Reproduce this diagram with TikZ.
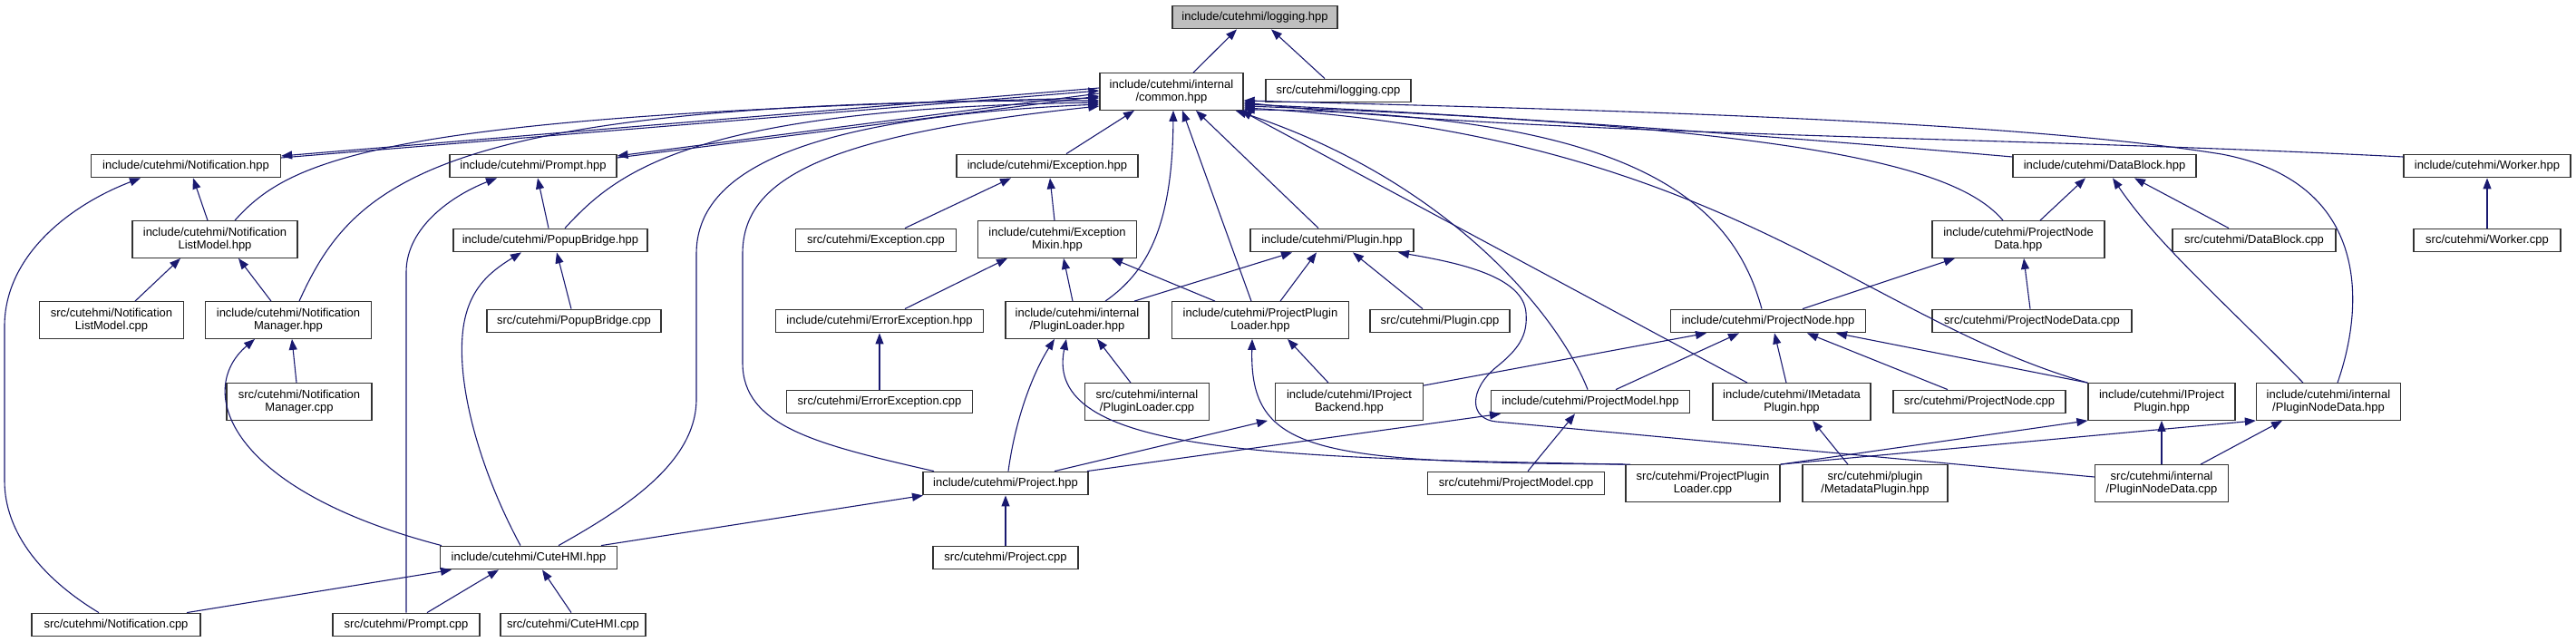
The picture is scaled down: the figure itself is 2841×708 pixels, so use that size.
\documentclass[tikz,border=0pt]{standalone}
\usepackage{fontspec}
\setmainfont{Liberation Sans}
\usepackage{xcolor}
\usepackage{tikz}
\usetikzlibrary{arrows.meta, calc}

\definecolor{edgeblue}{RGB}{25,25,112}

\begin{document}
\begin{tikzpicture}
	[x=1pt, y=1pt, >={Triangle[length=12pt,width=9pt]},
	filebox/.style={rectangle, draw=black!80, line width=1.3pt, fill=white, minimum height=25.5pt, inner sep=2pt, align=center, font=\fontsize{13}{14}\selectfont},
	twobox/.style={filebox, minimum height=40.5pt},
	rootbox/.style={filebox, fill=black!25},
	dep/.style={->, draw=edgeblue, line width=1.1pt}
	]
	\useasboundingbox (0,0) rectangle (2841,-708);

	% Nodes
	\node[rootbox, minimum width=182] (logh) at (1384,-19) {include/cutehmi/logging.hpp};
	\node[twobox, minimum width=158] (commonh) at (1292,-101) {include/cutehmi/internal\\/common.hpp};
	\node[filebox, minimum width=160] (logcpp) at (1476,-100) {src/cutehmi/logging.cpp};

	\node[filebox, minimum width=209] (notifh) at (205,-183) {include/cutehmi/Notification.hpp};
	\node[filebox, minimum width=184] (prompth) at (588,-183) {include/cutehmi/Prompt.hpp};
	\node[filebox, minimum width=200] (exch) at (1155,-183) {include/cutehmi/Exception.hpp};
	\node[filebox, minimum width=202] (datablockh) at (2321,-183) {include/cutehmi/DataBlock.hpp};
	\node[filebox, minimum width=184] (workerh) at (2743,-183) {include/cutehmi/Worker.hpp};

	\node[twobox, minimum width=182] (nlmh) at (237,-264) {include/cutehmi/Notification\\ListModel.hpp};
	\node[filebox, minimum width=214] (popuph) at (607,-265) {include/cutehmi/PopupBridge.hpp};
	\node[filebox, minimum width=177] (exccpp) at (966,-265) {src/cutehmi/Exception.cpp};
	\node[twobox, minimum width=175] (excmixh) at (1166,-264) {include/cutehmi/Exception\\Mixin.hpp};
	\node[filebox, minimum width=180] (pluginh) at (1469,-265) {include/cutehmi/Plugin.hpp};
	\node[twobox, minimum width=190] (pndh) at (2226,-264) {include/cutehmi/ProjectNode\\Data.hpp};
	\node[filebox, minimum width=180] (datablockcpp) at (2486,-265) {src/cutehmi/DataBlock.cpp};
	\node[filebox, minimum width=162] (workercpp) at (2743,-265) {src/cutehmi/Worker.cpp};

	\node[twobox, minimum width=159] (nlmcpp) at (123,-353) {src/cutehmi/Notification\\ListModel.cpp};
	\node[twobox, minimum width=183] (nmh) at (318,-353) {include/cutehmi/Notification\\Manager.hpp};
	\node[filebox, minimum width=192] (popupcpp) at (633,-354) {src/cutehmi/PopupBridge.cpp};
	\node[filebox, minimum width=229] (errexch) at (970,-354) {include/cutehmi/ErrorException.hpp};
	\node[twobox, minimum width=158] (pluginloaderh) at (1188,-353) {include/cutehmi/internal\\/PluginLoader.hpp};
	\node[twobox, minimum width=195] (pplh) at (1390,-353) {include/cutehmi/ProjectPlugin\\Loader.hpp};
	\node[filebox, minimum width=154] (plugincpp) at (1588,-354) {src/cutehmi/Plugin.cpp};
	\node[filebox, minimum width=215] (projnodeh) at (1950,-354) {include/cutehmi/ProjectNode.hpp};
	\node[filebox, minimum width=220] (pndcpp) at (2241,-354) {src/cutehmi/ProjectNodeData.cpp};

	\node[twobox, minimum width=160] (nmcpp) at (330,-443) {src/cutehmi/Notification\\Manager.cpp};
	\node[filebox, minimum width=205] (errexccpp) at (970,-443) {src/cutehmi/ErrorException.cpp};
	\node[twobox, minimum width=137] (pluginloadercpp) at (1265,-443) {src/cutehmi/internal\\/PluginLoader.cpp};
	\node[twobox, minimum width=163] (iprojbackendh) at (1488,-443) {include/cutehmi/IProject\\Backend.hpp};
	\node[filebox, minimum width=219] (projmodelh) at (1754,-443) {include/cutehmi/ProjectModel.hpp};
	\node[twobox, minimum width=174] (imetah) at (1976,-443) {include/cutehmi/IMetadata\\Plugin.hpp};
	\node[filebox, minimum width=190] (projnodecpp) at (2183,-443) {src/cutehmi/ProjectNode.cpp};
	\node[twobox, minimum width=162] (iprojpluginh) at (2384,-443) {include/cutehmi/IProject\\Plugin.hpp};
	\node[twobox, minimum width=159] (plugnodedatah) at (2568,-443) {include/cutehmi/internal\\/PluginNodeData.hpp};

	\node[filebox, minimum width=182] (projecth) at (1109,-533) {include/cutehmi/Project.hpp};
	\node[filebox, minimum width=195] (projmodelcpp) at (1672,-533) {src/cutehmi/ProjectModel.cpp};
	\node[twobox, minimum width=170] (pplcpp) at (1878,-533) {src/cutehmi/ProjectPlugin\\Loader.cpp};
	\node[twobox, minimum width=160] (metapluginh) at (2068,-533) {src/cutehmi/plugin\\/MetadataPlugin.hpp};
	\node[twobox, minimum width=147] (plugnodedatacpp) at (2384,-533) {src/cutehmi/internal\\/PluginNodeData.cpp};

	\node[filebox, minimum width=195] (cutehmih) at (583,-615) {include/cutehmi/CuteHMI.hpp};
	\node[filebox, minimum width=160] (projectcpp) at (1109,-615) {src/cutehmi/Project.cpp};

	\node[filebox, minimum width=186] (notifcpp) at (128,-689) {src/cutehmi/Notification.cpp};
	\node[filebox, minimum width=162] (promptcpp) at (448,-689) {src/cutehmi/Prompt.cpp};
	\node[filebox, minimum width=160] (cutehmicpp) at (632,-689) {src/cutehmi/CuteHMI.cpp};

	% Arrows: top
	\draw[dep] ([xshift=24]commonh.north) -- ([xshift=-20]logh.south);
	\draw[dep] ([xshift=-15]logcpp.north) -- ([xshift=18]logh.south);

	% Arrows: left part
	\draw[dep] ([yshift=4]commonh.west) -- ([yshift=11]notifh.east);
	\draw[dep] ([yshift=9]notifh.east) -- ([yshift=1]commonh.west);
	\draw[dep] ([yshift=-2]commonh.west) -- ([yshift=11]prompth.east);
	\draw[dep] ([yshift=9]prompth.east) -- ([yshift=-5]commonh.west);
	\draw[dep] ([xshift=22]nlmh.north) .. controls (320,-175) and (420,-125) .. ([yshift=-7]commonh.west);
	\draw[dep] ([xshift=12]nmh.north) .. controls (390,-200) and (480,-110) .. ([yshift=-10]commonh.west);
	\draw[dep] ([xshift=16]popuph.north) .. controls (680,-190) and (760,-120) .. ([yshift=-12]commonh.west);
	\draw[dep] ([xshift=33]cutehmih.north) .. controls (690,-560) and (768,-510) .. (768,-440) -- (768,-280) .. controls (768,-190) and (880,-130) .. ([yshift=-14]commonh.west);
	\draw[dep] ([xshift=-79]projecth.north) .. controls (900,-490) and (819,-470) .. (819,-400) -- (819,-280) .. controls (819,-200) and (900,-150) .. ([yshift=-16]commonh.west);
	\draw[dep] (promptcpp.north) -- (448,-300) .. controls (448,-250) and (500,-215) .. ([xshift=-40]prompth.south);
	\draw[dep] ([xshift=-19]notifcpp.north) .. controls (50,-640) and (5,-590) .. (5,-530) -- (5,-360) .. controls (5,-280) and (80,-225) .. ([xshift=-50]notifh.south);
	\draw[dep] ([xshift=78]notifcpp.north) -- ([xshift=-85]cutehmih.south);
	\draw[dep] ([xshift=23]promptcpp.north) -- ([xshift=-33]cutehmih.south);
	\draw[dep] ([xshift=-2]cutehmicpp.north) -- ([xshift=15]cutehmih.south);
	\draw[dep] ([xshift=80]cutehmih.north) -- ([xshift=-91]projecth.south);
	\draw[dep] ([xshift=-96]cutehmih.north) .. controls (250,-540) and (215,-430) .. ([xshift=-37]nmh.south);
	\draw[dep] ([xshift=-9]cutehmih.north) .. controls (530,-520) and (505,-430) .. (510,-370) .. controls (514,-320) and (540,-300) .. ([xshift=-32]popuph.south);
	\draw[dep] ([xshift=-8]nlmh.north) -- ([xshift=8]notifh.south);
	\draw[dep] ([xshift=26]nlmcpp.north) -- ([xshift=-38]nlmh.south);
	\draw[dep] ([xshift=-19]nmh.north) -- ([xshift=26]nlmh.south);
	\draw[dep] ([xshift=-3]nmcpp.north) -- ([xshift=4]nmh.south);
	\draw[dep] ([xshift=-2]popuph.north) -- ([xshift=5]prompth.south);
	\draw[dep] ([xshift=-3]popupcpp.north) -- ([xshift=7]popuph.south);

	% Arrows: middle part
	\draw[dep] ([xshift=21]exch.north) -- ([xshift=-41]commonh.south);
	\draw[dep] ([xshift=32]exccpp.north) -- ([xshift=-40]exch.south);
	\draw[dep] ([xshift=-3]excmixh.north) -- ([xshift=3]exch.south);
	\draw[dep] ([xshift=28]errexch.north) -- ([xshift=-55]excmixh.south);
	\draw[dep] ([xshift=-5]pluginloaderh.north) -- ([xshift=7]excmixh.south);
	\draw[dep] ([xshift=-50]pplh.north) -- ([xshift=60]excmixh.south);
	\draw[dep] ([xshift=31]pluginloaderh.north) .. controls (1265,-300) and (1293,-250) .. ([xshift=2]commonh.south);
	\draw[dep] ([xshift=-10]pplh.north) -- ([xshift=12]commonh.south);
	\draw[dep] ([xshift=-15]pluginh.north) -- ([xshift=27]commonh.south);
	\draw[dep] (errexccpp) -- (errexch);
	\draw[dep] ([xshift=63]pluginloaderh.north) -- ([xshift=-44]pluginh.south);
	\draw[dep] ([xshift=22]pplh.north) -- ([xshift=-17]pluginh.south);
	\draw[dep] ([xshift=-19]plugincpp.north) -- ([xshift=23]pluginh.south);
	\draw[dep] ([xshift=3]projecth.north) .. controls (1120,-460) and (1140,-410) .. ([xshift=-25]pluginloaderh.south);
	\draw[dep] ([xshift=-18]pluginloadercpp.north) -- ([xshift=22]pluginloaderh.south);
	\draw[dep] (pplcpp.north west) .. controls (1400,-505) and (1150,-500) .. ([xshift=-12]pluginloaderh.south);
	\draw[dep] ([xshift=-80]pplcpp.north) .. controls (1450,-510) and (1378,-500) .. ([xshift=-9]pplh.south);
	\draw[dep] ([xshift=-23]iprojbackendh.north) -- ([xshift=30]pplh.south);
	\draw[dep] ([xshift=54]projecth.north) -- ([xshift=-90]iprojbackendh.south);
	\draw[dep] ([xshift=90]projecth.north) -- ([xshift=-99]projmodelh.south);
	\draw[dep] ([xshift=13]projmodelcpp.north) -- ([xshift=-17]projmodelh.south);
	\draw[dep] (projectcpp) -- (projecth);

	% Arrows: right part
	\draw[dep] ([xshift=-3]projmodelh.north) .. controls (1720,-350) and (1600,-200) .. ([xshift=-9]commonh.south east);
	\draw[dep] ([xshift=-49]imetah.north) -- ([xshift=-3]commonh.south east);
	\draw[dep] ([xshift=-7]projnodeh.north) .. controls (1910,-220) and (1800,-125) .. ([yshift=1]commonh.south east);
	\draw[dep] (iprojpluginh.north west) .. controls (2050,-350) and (1900,-150) .. ([yshift=3]commonh.south east);
	\draw[dep] ([xshift=-17]pndh.north) .. controls (2160,-185) and (2000,-140) .. ([yshift=5]commonh.south east);
	\draw[dep] ([yshift=10]datablockh.west) .. controls (1900,-145) and (1600,-125) .. ([yshift=7]commonh.south east);
	\draw[dep] ([yshift=10]workerh.west) .. controls (2200,-150) and (1700,-150) .. ([yshift=9]commonh.south east);
	\draw[dep] ([xshift=10]plugnodedatah.north) .. controls (2610,-330) and (2610,-200) .. (2450,-170) .. controls (2200,-130) and (1700,-120) .. ([yshift=11]commonh.south east);
	\draw[dep] (iprojpluginh.north west) -- ([xshift=75]projnodeh.south);
	\draw[dep] ([xshift=-35]projnodecpp.north) -- ([xshift=43]projnodeh.south);
	\draw[dep] ([xshift=-6]imetah.north) -- ([xshift=7]projnodeh.south);
	\draw[dep] ([xshift=28]projmodelh.north) -- ([xshift=-32]projnodeh.south);
	\draw[dep] ([yshift=-3]iprojbackendh.north east) -- ([xshift=-68]projnodeh.south);
	\draw[dep] ([yshift=7]plugnodedatacpp.west) -- (1650,-465) .. controls (1620,-462) and (1620,-430) .. (1650,-405) .. controls (1675,-385) and (1685,-370) .. (1683,-345) .. controls (1680,-305) and (1610,-290) .. ([xshift=73]pluginh.south);
	\draw[dep] (pplcpp.north east) -- (iprojpluginh.south west);
	\draw[dep] (pplcpp.north east) -- (plugnodedatah.south west);
	\draw[dep] (plugnodedatacpp.north) -- (iprojpluginh.south);
	\draw[dep] ([xshift=43]plugnodedatacpp.north) -- ([xshift=-51]plugnodedatah.south);
	\draw[dep] ([xshift=-28]plugnodedatah.north) .. controls (2450,-330) and (2380,-270) .. ([xshift=9]datablockh.south);
	\draw[dep] ([xshift=-28]datablockcpp.north) -- ([xshift=33]datablockh.south);
	\draw[dep] ([xshift=24]pndh.north) -- ([xshift=-21]datablockh.south);
	\draw[dep] (workercpp) -- (workerh);
	\draw[dep] ([xshift=-2]pndcpp.north) -- ([xshift=6]pndh.south);
	\draw[dep] ([xshift=38]projnodeh.north) -- ([xshift=-70]pndh.south);
	\draw[dep] ([xshift=-30]metapluginh.north) -- ([xshift=23]imetah.south);
\end{tikzpicture}
\end{document}
